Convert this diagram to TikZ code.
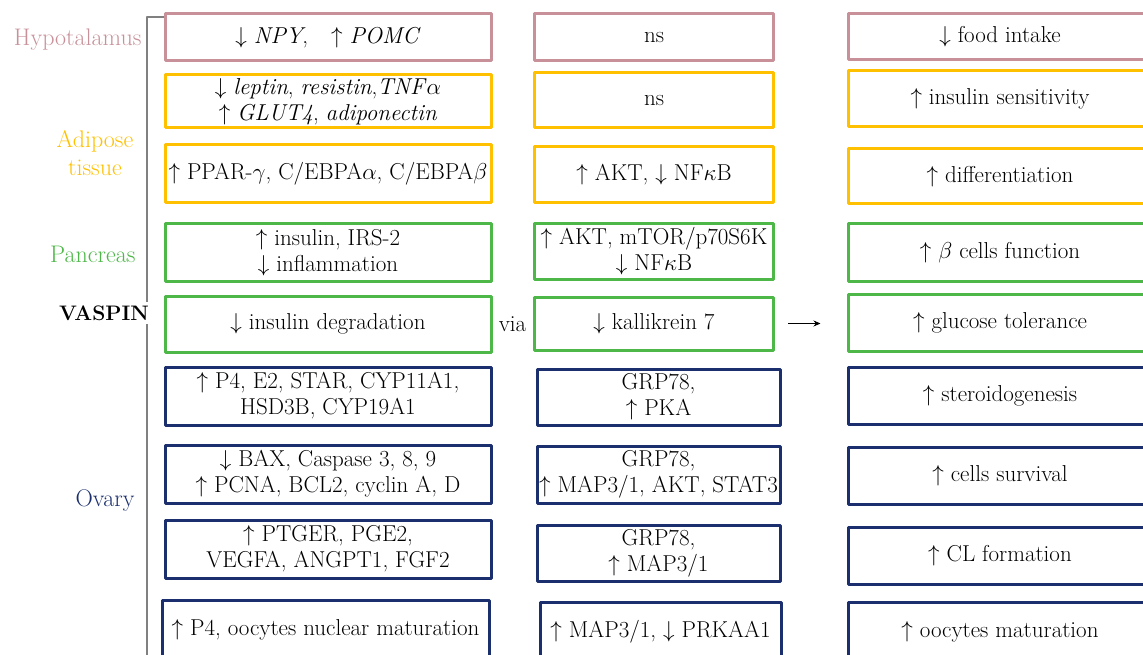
\RequirePackage{fix-cm}
\documentclass[tikz,border=0pt]{standalone}
\usepackage{fontspec}
\usetikzlibrary{arrows.meta}
\definecolor{hypoc}{HTML}{C8919A}
\definecolor{adipc}{HTML}{FFC000}
\definecolor{pancc}{HTML}{4DB748}
\definecolor{ovac}{HTML}{1B2F6E}
\begin{document}
\begin{tikzpicture}[x=1pt,y=-1pt,line join=round,>={Stealth[length=7pt,width=6pt]}]
	\tikzset{every node/.style={font=\fontsize{23}{26}\selectfont},
		bx/.style 2 args={draw,line width=3pt,align=center,inner sep=0pt,text=black,
			minimum width=#1pt,minimum height=#2pt},
		organ/.style={align=center,font=\fontsize{24}{28}\selectfont}}
	\useasboundingbox (0,0) rectangle (1143,655);
	\clip (0,0) rectangle (1143,655);
	% bracket
	\draw[gray,line width=1.6pt] (165,17)--(147,17)--(147,660);
	% organs
	\node[organ,hypoc,anchor=east] (hyp) at (145,40) {Hypotalamus};
	\node[organ,adipc] (adi) at (95,153) {Adipose\\tissue};
	\node[organ,pancc,anchor=east] (pan) at (139,254) {Pancreas};
	\node[organ,anchor=east,fill=white,inner xsep=1pt,font=\fontsize{21}{27}\selectfont\bfseries] (vas) at (150,313) {VASPIN};
	\node[organ,ovac] (ova) at (105,501) {Ovary};
	% first column
	\node[bx={326}{47},draw=hypoc] (a1) at (328,37.5) {$\downarrow$ \textit{NPY},\quad $\uparrow$ \textit{POMC}};
	\node[bx={326}{53},draw=adipc] (a2) at (328,101.5) {$\downarrow$ \textit{leptin}, \textit{resistin},\textit{TNF}$\alpha$\\$\uparrow$ \textit{GLUT4}, \textit{adiponectin}};
	\node[bx={326}{58},draw=adipc] (a3) at (328,174) {$\uparrow$ PPAR-$\gamma$, C/EBPA$\alpha$, C/EBPA$\beta$};
	\node[bx={326}{57},draw=pancc] (a4) at (328,252.5) {$\uparrow$ insulin, IRS-2\\$\downarrow$ inflammation};
	\node[bx={326}{56},draw=pancc] (a5) at (328,324) {$\downarrow$ insulin degradation};
	\node[bx={326}{58},draw=ovac] (a6) at (328,396) {$\uparrow$ P4, E2, STAR, CYP11A1,\\HSD3B, CYP19A1};
	\node[bx={326}{58},draw=ovac] (a7) at (328,474) {$\downarrow$ BAX, Caspase 3, 8, 9\\$\uparrow$ PCNA, BCL2, cyclin A, D};
	\node[bx={326}{58},draw=ovac] (a8) at (328,549) {$\uparrow$ PTGER, PGE2,\\VEGFA, ANGPT1, FGF2};
	\node[bx={327}{60},draw=ovac] (a9) at (325.5,630) {$\uparrow$ P4, oocytes nuclear maturation};
	% second column
	\node[bx={239}{47},draw=hypoc] (b1) at (654,37.5) {ns};
	\node[bx={239}{55},draw=adipc] (b2) at (654,100.5) {ns};
	\node[bx={239}{56},draw=adipc] (b3) at (654,175) {$\uparrow$ AKT, $\downarrow$ NF$\kappa$B};
	\node[bx={239}{55},draw=pancc] (b4) at (654,251.5) {$\uparrow$ AKT, mTOR/p70S6K\\$\downarrow$ NF$\kappa$B};
	\node[bx={239}{53},draw=pancc] (b5) at (654,323.5) {$\downarrow$ kallikrein 7};
	\node[bx={243}{56},draw=ovac] (b6) at (658.5,397) {GRP78,\\$\uparrow$ PKA};
	\node[bx={243}{57},draw=ovac] (b7) at (658.5,474.5) {GRP78,\\$\uparrow$ MAP3/1, AKT, STAT3};
	\node[bx={243}{56},draw=ovac] (b8) at (658.5,553) {GRP78,\\$\uparrow$ MAP3/1};
	\node[bx={241}{60},draw=ovac] (b9) at (660.5,632) {$\uparrow$ MAP3/1, $\downarrow$ PRKAA1};
	% third column
	\node[bx={304}{46},draw=hypoc] (c1) at (1000,37) {$\downarrow$ food intake};
	\node[bx={304}{56},draw=adipc] (c2) at (1000,99) {$\uparrow$ insulin sensitivity};
	\node[bx={304}{55},draw=adipc] (c3) at (1000,176.5) {$\uparrow$ differentiation};
	\node[bx={304}{57},draw=pancc] (c4) at (1000,252.5) {$\uparrow$ $\beta$ cells function};
	\node[bx={304}{57},draw=pancc] (c5) at (1000,322.5) {$\uparrow$ glucose tolerance};
	\node[bx={304}{57},draw=ovac] (c6) at (1000,395.5) {$\uparrow$ steroidogenesis};
	\node[bx={304}{57},draw=ovac] (c7) at (1000,475.5) {$\uparrow$ cells survival};
	\node[bx={304}{57},draw=ovac] (c8) at (1000,555.5) {$\uparrow$ CL formation};
	\node[bx={304}{60},draw=ovac] (c9) at (1000,632) {$\uparrow$ oocytes maturation};
	% via and arrow
	\node (via) at (512.5,324) {via};
	\draw[->,line width=1pt,shorten <=13pt,shorten >=26pt] (b5.east) -- (b5.east -| c5.west);
\end{tikzpicture}
\end{document}
